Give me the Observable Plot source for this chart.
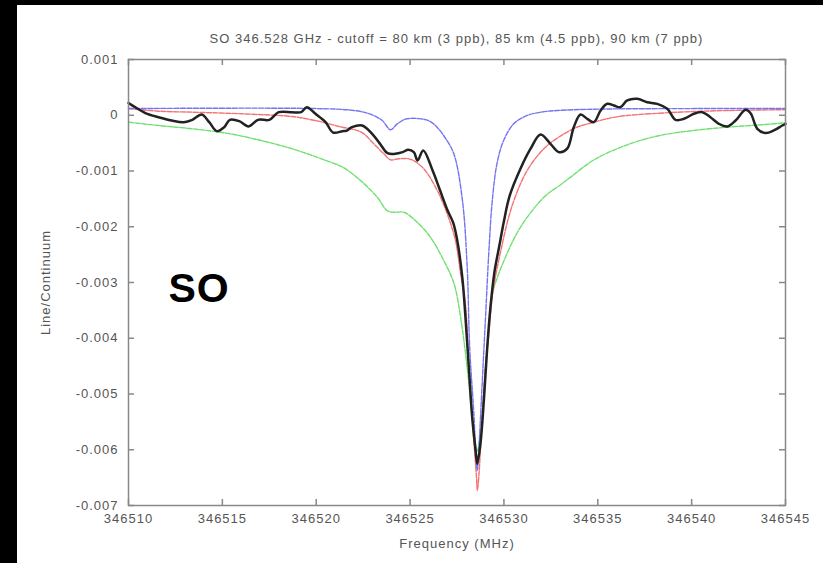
<!DOCTYPE html>
<html>
<head>
<meta charset="utf-8">
<script src="https://cdn.jsdelivr.net/npm/d3@7"></script>
<script src="https://cdn.jsdelivr.net/npm/@observablehq/plot@0.6"></script>
<style>
html, body { margin: 0; padding: 0; background: #000; width: 823px; height: 563px; overflow: hidden; }
#panel { position: absolute; left: 17px; top: 5px; width: 806px; height: 558px; background: #fff; }
#title { position: absolute; left: 111px; width: 657px; top: 26px; height: 16px; line-height: 16px; text-align: center;
  font-family: "Liberation Sans", Arial, sans-serif; font-size: 13px; letter-spacing: 1px; color: #555; white-space: nowrap; }
#chart { position: absolute; left: 0; top: 40px; }
</style>
</head>
<body>
<div id="panel">
  <div id="title"></div>
  <div id="chart"></div>
</div>
<script>
// ---- text ----
const titleText = "SO 346.528 GHz - cutoff = 80 km (3 ppb), 85 km (4.5 ppb), 90 km (7 ppb)";
const xLabel = "Frequency (MHz)";
const yLabel = "Line/Continuum";
const annotText = ["SO"];
const annotX = [346512.13];
const annotY = [-0.00311];

// ---- ticks ----
const xTicks = [346510, 346515, 346520, 346525, 346530, 346535, 346540, 346545];
const yTicks = [0.001, 0, -0.001, -0.002, -0.003, -0.004, -0.005, -0.006, -0.007];

// ---- observed spectrum (black) : frequency MHz, Line/Continuum in units of 1e-3 ----
const obsX = [346510.0,346510.28,346510.9,346511.6,346512.3,346512.95,346513.4,346513.9,346514.3,346514.7,346515.1,346515.4,346515.9,346516.4,346516.9,346517.5,346518.0,346518.7,346519.2,346519.5,346519.96,346520.5,346520.9,346521.4,346521.6,346521.9,346522.45,346522.98,346523.4,346523.8,346524.2,346524.6,346524.9,346525.2,346525.4,346525.7,346526.2,346526.6,346527.0,346527.3,346527.5,346527.78,346527.95,346528.13,346528.31,346528.49,346528.58,346528.75,346528.93,346529.1,346529.28,346529.5,346529.75,346530.0,346530.3,346530.88,346531.42,346531.95,346532.48,346532.93,346533.37,346533.72,346534.08,346534.44,346534.79,346535.15,346535.5,346535.86,346536.2,346536.57,346537.1,346537.63,346538.17,346538.7,346539.14,346539.59,346540.12,346540.57,346541.0,346541.45,346541.9,346542.34,346542.87,346543.14,346543.5,346543.94,346544.38,346544.83,346545.0];
const obsY = [0.22,0.16,0.04,-0.035,-0.094,-0.124,-0.082,0.013,-0.124,-0.285,-0.214,-0.082,-0.106,-0.202,-0.082,-0.082,0.055,0.055,0.055,0.145,0.026,-0.124,-0.31,-0.285,-0.28,-0.214,-0.184,-0.333,-0.513,-0.68,-0.692,-0.662,-0.62,-0.662,-0.81,-0.632,-0.99,-1.35,-1.71,-1.93,-2.22,-2.90,-3.62,-4.52,-5.42,-6.01,-6.25,-5.89,-5.12,-4.22,-3.45,-2.80,-2.35,-1.90,-1.45,-0.96,-0.60,-0.345,-0.512,-0.662,-0.60,-0.214,0.013,-0.064,-0.124,0.085,0.205,0.175,0.145,0.265,0.295,0.234,0.205,0.116,-0.082,-0.064,0.026,0.055,-0.035,-0.153,-0.202,-0.094,0.097,0.037,-0.243,-0.32,-0.273,-0.184,-0.153];

// ---- model, cutoff 85 km (red) ----
const redX = [346510.0,346511.6,346513.4,346515.2,346516.9,346518.7,346520.1,346521.2,346522.4,346523.07,346523.6,346523.96,346524.4,346525.02,346525.73,346526.45,346526.98,346527.42,346527.69,346527.95,346528.13,346528.37,346528.54,346528.58,346528.66,346528.84,346529.02,346529.2,346529.4,346529.82,346530.44,346531.24,346532.13,346532.93,346533.9,346534.8,346535.7,346536.57,346538.3,346540.1,346541.9,346545.0];
const redY = [0.12,0.073,0.055,0.037,0.013,-0.022,-0.106,-0.2,-0.304,-0.513,-0.69,-0.80,-0.78,-0.79,-0.96,-1.35,-1.77,-2.25,-2.84,-3.4,-4.52,-5.71,-6.5,-6.73,-6.49,-5.42,-4.52,-3.9,-3.2,-2.45,-1.62,-0.99,-0.6,-0.39,-0.214,-0.124,-0.046,-0.004,0.037,0.067,0.085,0.1];

// ---- model, cutoff 90 km (blue) ----
const blueX = [346510.0,346520.0,346521.9,346522.8,346523.5,346523.96,346524.3,346524.75,346525.46,346526.0,346526.45,346526.9,346527.34,346527.78,346528.04,346528.18,346528.41,346528.49,346528.58,346528.66,346528.84,346529.02,346529.2,346529.38,346529.64,346529.99,346530.52,346531.24,346531.95,346532.84,346535.0,346545.0];
const blueY = [0.12,0.12,0.09,0.03,-0.09,-0.26,-0.16,-0.07,-0.06,-0.1,-0.22,-0.42,-0.7,-1.5,-2.7,-4.2,-5.42,-6.05,-6.37,-6.01,-4.82,-3.62,-2.43,-1.53,-0.85,-0.45,-0.153,-0.004,0.055,0.085,0.11,0.12];

// ---- model, cutoff 80 km (green) ----
const greenX = [346510.0,346511.6,346513.4,346515.2,346516.9,346518.7,346520.5,346521.4,346522.36,346523.25,346523.78,346524.14,346524.67,346525.38,346526.09,346526.8,346527.34,346527.69,346528.04,346528.31,346528.49,346528.58,346528.75,346529.02,346529.28,346529.38,346530.0,346530.88,346532.13,346533.0,346533.55,346534.8,346536.57,346538.3,346540.1,346541.9,346543.7,346545.0];
const greenY = [-0.124,-0.184,-0.243,-0.32,-0.44,-0.60,-0.81,-0.93,-1.17,-1.47,-1.71,-1.74,-1.74,-1.92,-2.19,-2.61,-3.02,-3.62,-4.52,-5.42,-5.9,-6.03,-5.71,-4.52,-3.50,-3.2,-2.61,-2.01,-1.47,-1.25,-1.11,-0.80,-0.53,-0.363,-0.273,-0.214,-0.171,-0.136];

const toRows = (xs, ys) => xs.map((x, i) => ({x, y: ys[i] * 1e-3}));
const obs = toRows(obsX, obsY);
const red = toRows(redX, redY);
const blue = toRows(blueX, blueY);
const green = toRows(greenX, greenY);
const annot = annotText.map((t, i) => ({t, x: annotX[i], y: annotY[i]}));

document.getElementById("title").textContent = titleText;

const font = '"Liberation Sans", Arial, sans-serif';
const yFmt = d => d === 0 ? "0" : d.toFixed(3);

const W = 806, H = 518, ML = 111, MR = 38, MT = 14, MB = 58;
const TICK = 6;
const innerW = W - ML - MR, innerH = H - MT - MB;
const tickStyle = {stroke: "#888", strokeWidth: 1.5};

const chart = Plot.plot({
  width: W,
  height: H,
  marginLeft: ML,
  marginRight: MR,
  marginTop: MT,
  marginBottom: MB,
  style: {background: "transparent", fontFamily: font, fontSize: "13px", color: "#555", letterSpacing: "1px"},
  x: {domain: [346510, 346545]},
  y: {domain: [-0.007, 0.001]},
  marks: [
    Plot.line(green, {x: "x", y: "y", stroke: "#6fe06f", strokeWidth: 1.4, strokeDasharray: "5,1.5", curve: "catmull-rom"}),
    Plot.line(red, {x: "x", y: "y", stroke: "#f47272", strokeWidth: 1.4, strokeDasharray: "5,1.5", curve: "catmull-rom"}),
    Plot.line(blue, {x: "x", y: "y", stroke: "#7474f2", strokeWidth: 1.4, strokeDasharray: "5,1.5", curve: "catmull-rom"}),
    Plot.line(obs, {x: "x", y: "y", stroke: "#222", strokeWidth: 2.5, curve: "catmull-rom"}),
    // inward tick marks on all four sides
    Plot.ruleX(xTicks, {x: d => d, insetTop: innerH - TICK, ...tickStyle}),
    Plot.ruleX(xTicks, {x: d => d, insetBottom: innerH - TICK, ...tickStyle}),
    Plot.ruleY(yTicks, {y: d => d, insetRight: innerW - TICK, ...tickStyle}),
    Plot.ruleY(yTicks, {y: d => d, insetLeft: innerW - TICK, ...tickStyle}),
    Plot.frame({stroke: "#888", strokeWidth: 1.5}),
    // tick labels and axis titles
    Plot.axisX({anchor: "bottom", ticks: xTicks, tickFormat: d => String(d), tickSize: 0, tickPadding: 8,
      label: xLabel, labelAnchor: "center", labelOffset: 42, labelArrow: "none"}),
    Plot.axisY({anchor: "left", ticks: yTicks, tickFormat: yFmt, tickSize: 0, tickPadding: 10,
      label: yLabel, labelAnchor: "center", labelOffset: 88, labelArrow: "none"}),
    Plot.text(annot, {x: "x", y: "y", text: "t", textAnchor: "start", lineAnchor: "middle", fontSize: 41, fontWeight: "bold", fill: "#000", fontFamily: font, letterSpacing: "0px"})
  ]
});
document.getElementById("chart").appendChild(chart);
</script>
</body>
</html>
